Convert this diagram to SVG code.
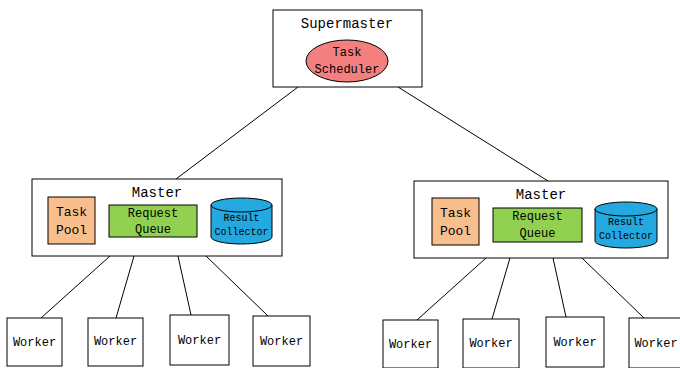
<svg xmlns="http://www.w3.org/2000/svg" width="680" height="368" viewBox="0 0 680 368">
<style>
text{font-family:"Liberation Mono","DejaVu Sans Mono",monospace;fill:#000;text-anchor:middle}
.box{fill:#fff;stroke:#000;stroke-width:1}
.pool{fill:#F9BE8E;stroke:#000;stroke-width:1}
.queue{fill:#92D050;stroke:#000;stroke-width:1}
.cyl{fill:#23A8E0;stroke:#000;stroke-width:1}
.t14{font-size:14px}
.t13{font-size:13px}
.t12{font-size:12px}
.t10{font-size:10px}
#connectors line{stroke:#000;stroke-width:1}
</style>
<rect width="680" height="368" fill="#fff"/>
<g id="connectors">
<line x1="298" y1="87" x2="176" y2="179"/>
<line x1="398" y1="87" x2="548" y2="181"/>
<line x1="110" y1="256" x2="41" y2="318"/>
<line x1="134" y1="256" x2="116" y2="318"/>
<line x1="178" y1="256" x2="191" y2="315"/>
<line x1="206" y1="256" x2="268" y2="316"/>
<line x1="486" y1="258" x2="417" y2="320"/>
<line x1="510" y1="258" x2="492" y2="319"/>
<line x1="553" y1="258" x2="566" y2="317"/>
<line x1="582" y1="258" x2="644" y2="318"/>
</g>
<g id="supermaster">
<rect class="box" x="273" y="10" width="149" height="77"/>
<text class="t14" x="347" y="28">Supermaster</text>
<ellipse cx="347" cy="61" rx="41" ry="21" fill="#F47F7F" stroke="#000"/>
<text class="t12" x="347" y="56">Task</text>
<text class="t12" x="347" y="73">Scheduler</text>
</g>
<g id="master-left">
<rect class="box" x="32" y="179" width="250" height="77"/>
<text class="t14" x="157" y="197">Master</text>
<rect class="pool" x="48" y="197" width="47" height="47"/>
<text class="t13" x="71.5" y="216">Task</text>
<text class="t13" x="71.5" y="234">Pool</text>
<rect class="queue" x="109" y="205" width="88" height="32"/>
<text class="t12" x="153" y="217">Request</text>
<text class="t12" x="153" y="233">Queue</text>
<path class="cyl" d="M211,205 v32 a30.5,7 0 0 0 61,0 v-32 a30.5,7 0 0 0 -61,0 a30.5,7 0 0 0 61,0"/>
<text class="t10" x="241.5" y="221">Result</text>
<text class="t10" x="241.5" y="235">Collector</text>
</g>
<g id="master-right">
<rect class="box" x="414" y="181" width="254" height="77"/>
<text class="t14" x="541" y="199">Master</text>
<rect class="pool" x="432" y="198" width="47" height="47"/>
<text class="t13" x="455.5" y="217">Task</text>
<text class="t13" x="455.5" y="235">Pool</text>
<rect class="queue" x="493" y="208" width="89" height="34"/>
<text class="t12" x="537.5" y="220">Request</text>
<text class="t12" x="537.5" y="237">Queue</text>
<path class="cyl" d="M595,209 v32 a31,7 0 0 0 62,0 v-32 a31,7 0 0 0 -62,0 a31,7 0 0 0 62,0"/>
<text class="t10" x="626" y="225">Result</text>
<text class="t10" x="626" y="239">Collector</text>
</g>
<g id="worker-l1"><rect class="box" x="7" y="318" width="55" height="48"/><text class="t12" x="34.5" y="346">Worker</text></g>
<g id="worker-l2"><rect class="box" x="88" y="318" width="55" height="48"/><text class="t12" x="115.5" y="345">Worker</text></g>
<g id="worker-l3"><rect class="box" x="170" y="315" width="59" height="50"/><text class="t12" x="199.5" y="344">Worker</text></g>
<g id="worker-l4"><rect class="box" x="253" y="316" width="57" height="50"/><text class="t12" x="281.5" y="345">Worker</text></g>
<g id="worker-r1"><rect class="box" x="383" y="320" width="55" height="48"/><text class="t12" x="410.5" y="348">Worker</text></g>
<g id="worker-r2"><rect class="box" x="463" y="319" width="56" height="49"/><text class="t12" x="491" y="347">Worker</text></g>
<g id="worker-r3"><rect class="box" x="546" y="317" width="58" height="50"/><text class="t12" x="575" y="346">Worker</text></g>
<g id="worker-r4"><rect class="box" x="629" y="318" width="55" height="50"/><text class="t12" x="656" y="347">Worker</text></g>
</svg>
